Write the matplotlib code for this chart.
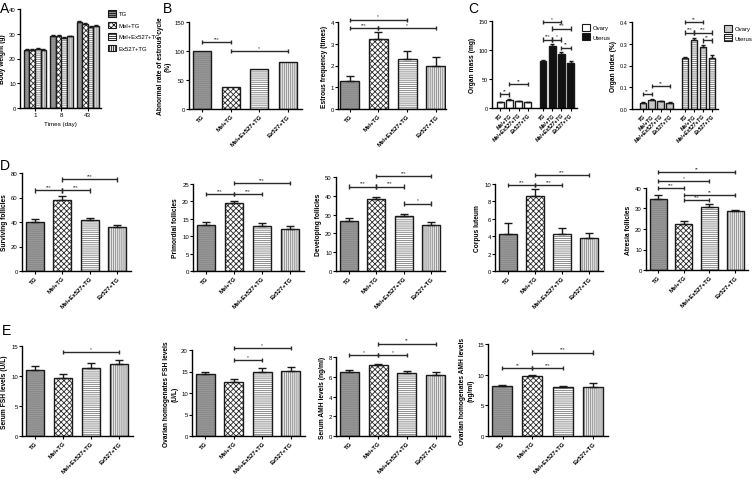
import numpy as np
import matplotlib
matplotlib.use("Agg")
import matplotlib.pyplot as plt
from matplotlib.patches import Patch

# fonts and general look
plt.rcParams['font.family'] = ['Liberation Sans', 'DejaVu Sans']
plt.rcParams['hatch.linewidth'] = 0.6
plt.rcParams['axes.linewidth'] = 1.0

# ---------------- data ----------------
groups = ['TG', 'Mel+TG', 'Mel+Ex527+TG', 'Ex527+TG']

# A: body weight
days = ['1', '8', '43']
weight_tg = [23.6, 29.2, 34.8]
weight_mel = [23.5, 29.1, 34.1]
weight_melex = [23.8, 28.4, 32.9]
weight_ex = [23.6, 28.9, 33.0]
weight_err = [0.3, 0.3, 0.4]

# B: estrous cycle
abnormal_rate = [100, 37.5, 68.7, 80.8]
estrous_freq = [1.28, 3.2, 2.3, 2.0]
estrous_err = [0.22, 0.35, 0.37, 0.4]

# C: organ mass / organ index
ovary_mass = [10.3, 14.0, 12.0, 10.3]
ovary_mass_err = [0.8, 0.9, 0.6, 0.5]
uterus_mass = [80.5, 107, 93, 77]
uterus_mass_err = [2.5, 2.5, 3.5, 3.5]
ovary_index = [0.029, 0.041, 0.036, 0.029]
ovary_index_err = [0.002, 0.003, 0.002, 0.002]
uterus_index = [0.234, 0.318, 0.285, 0.235]
uterus_index_err = [0.005, 0.008, 0.008, 0.012]

# D: follicle counts
surviving = [40, 58, 41.5, 36]
surviving_err = [2.5, 3.0, 1.8, 1.6]
primordial = [13.3, 19.4, 12.8, 12.0]
primordial_err = [0.8, 0.8, 1.0, 0.9]
developing = [26.6, 38.1, 29.2, 24.6]
developing_err = [1.5, 1.5, 1.0, 1.3]
corpus = [4.3, 8.6, 4.2, 3.85]
corpus_err = [1.2, 0.8, 0.7, 0.55]
atresia = [34.8, 22.6, 30.8, 28.6]
atresia_err = [2.0, 1.3, 1.3, 0.8]

# E: hormone levels
serum_fsh = [11.0, 9.7, 11.4, 12.0]
serum_fsh_err = [0.6, 0.6, 0.8, 0.6]
ovarian_fsh = [14.4, 12.5, 15.0, 15.2]
ovarian_fsh_err = [0.6, 0.7, 0.8, 0.8]
serum_amh = [6.5, 7.2, 6.35, 6.2]
serum_amh_err = [0.15, 0.12, 0.25, 0.3]
ovarian_amh = [8.1, 9.8, 8.0, 8.0]
ovarian_amh_err = [0.15, 0.2, 0.15, 0.6]

# significance brackets (group i, group j, height, label)
sig_abnormal = [(0, 1, 115, '***'), (1, 3, 100, '*')]
sig_estrous = [(0, 2, 4.1, '*'), (0, 1, 3.72, '***'), (1, 3, 3.72, '*')]
sig_ovary_mass = [(0, 1, 23.5, '**'), (1, 3, 41, '**')]
sig_uterus_mass = [(0, 2, 148, '*'), (1, 3, 137, '***'), (0, 1, 118, '***'),
                   (1, 2, 118, '*'), (2, 3, 104, '**')]
sig_ovary_index = [(0, 1, 0.069, '**'), (1, 3, 0.105, '**')]
sig_uterus_index = [(0, 2, 0.40, '**'), (0, 1, 0.351, '***'),
                    (1, 3, 0.351, '***'), (2, 3, 0.315, '**')]
sig_surviving = [(0, 1, 66, '***'), (1, 2, 66, '***'), (1, 3, 75, '***')]
sig_primordial = [(0, 1, 22.1, '***'), (1, 2, 22.1, '***'), (1, 3, 25.2, '***')]
sig_developing = [(0, 1, 44.9, '***'), (1, 2, 44.9, '***'),
                  (1, 3, 50.5, '***'), (2, 3, 35.8, '*')]
sig_corpus = [(0, 1, 9.9, '***'), (1, 2, 9.9, '***'), (1, 3, 11.0, '***')]
sig_atresia = [(0, 3, 47.6, '**'), (0, 2, 43.4, '*'), (0, 1, 39.8, '***'),
               (1, 3, 36.6, '**'), (1, 2, 34.1, '***')]
sig_serum_fsh = [(1, 3, 14.0, '*')]
sig_ovarian_fsh = [(1, 3, 20.4, '*'), (1, 2, 17.7, '*')]
sig_serum_amh = [(0, 1, 8.2, '*'), (1, 2, 8.2, '*'), (1, 3, 9.35, '**')]
sig_ovarian_amh = [(0, 1, 11.1, '**'), (1, 2, 11.1, '***'), (1, 3, 13.6, '***')]

# bar styles for the four groups: face colour, hatch, hatch colour
group_styles = [('#8a8a8a', '--------', '#9c9c9c'),
                ('white', 'xxxxxx', '#2a2a2a'),
                ('white', '--------', '#7a7a7a'),
                ('#e4e4e4', '||||||||', '#8a8a8a')]

W, H = 752, 485
fig = plt.figure(figsize=(W / 100, H / 100), dpi=100)


def add_ax(x0, x1, ytop, ybot):
    # axes placed by pixel positions (top-left origin)
    return fig.add_axes([x0 / W, 1 - ybot / H, (x1 - x0) / W, (ybot - ytop) / H])


def style_axes(ax, ymax, yticks, ylabel, fmt=None):
    ax.set_ylim(0, ymax)
    ax.set_yticks(yticks)
    if fmt:
        ax.set_yticklabels([fmt.format(t) for t in yticks])
    ax.spines['top'].set_visible(False)
    ax.spines['right'].set_visible(False)
    ax.tick_params(labelsize=4.3, length=2, width=0.8, pad=1)
    ax.set_ylabel(ylabel, fontsize=4.8, fontweight='bold', labelpad=2)


def draw_bar(ax, x, h, width, style):
    face, hatch, hcolor = style
    ax.bar(x, h, width, color=face, hatch=hatch, edgecolor=hcolor, linewidth=0)
    ax.bar(x, h, width, fill=False, edgecolor='#1a1a1a', linewidth=1.0)


def draw_err(ax, x, vals, errs, cap=3):
    ax.errorbar(x, vals, yerr=[np.zeros(len(vals)), errs], fmt='none',
                ecolor='#1a1a1a', elinewidth=1, capsize=cap, capthick=1)


def bracket(ax, x1, x2, y, label, dh):
    kw = dict(color='#2a2a2a', lw=1, clip_on=False, solid_capstyle='butt')
    ax.plot([x1, x2], [y, y], **kw)
    ax.plot([x1, x1], [y - dh, y + dh], **kw)
    ax.plot([x2, x2], [y - dh, y + dh], **kw)
    ax.text((x1 + x2) / 2, y + dh * 0.6, label, fontsize=3.5, ha='center',
            va='bottom', color='#333333', clip_on=False)


def set_group_labels(ax, xs, size=4.3):
    ax.set_xticks(xs)
    ax.set_xticklabels(groups, rotation=45, ha='right', rotation_mode='anchor',
                       fontsize=size, fontweight='bold')


def four_panel(ax, vals, errs, sigs, ymax, yticks, ylabel, fmt=None, width=0.66):
    x = np.arange(4)
    for i in range(4):
        draw_bar(ax, x[i], vals[i], width, group_styles[i])
    if errs is not None:
        draw_err(ax, x, vals, errs)
    for i, j, y, lab in sigs:
        bracket(ax, x[i], x[j], y, lab, ymax * 0.025)
    ax.set_xlim(-0.47, 3.5)
    style_axes(ax, ymax, yticks, ylabel, fmt)
    set_group_labels(ax, x)


# ---------------- panel A ----------------
axA = add_ax(20, 101, 10, 109)
xd = np.arange(len(days))
bw = 0.21
series_a = [weight_tg, weight_mel, weight_melex, weight_ex]
for k, vals in enumerate(series_a):
    xs = xd + (k - 1.5) * bw
    for i in range(len(days)):
        draw_bar(axA, xs[i], vals[i], bw, group_styles[k])
    draw_err(axA, xs, vals, weight_err, cap=1.2)
axA.set_xlim(-0.57, 2.5)
style_axes(axA, 40, [0, 10, 20, 30, 40], 'Body weight (g)')
axA.set_xticks(xd)
axA.set_xticklabels(days, fontsize=4.5)
axA.set_xlabel('Times (day)', fontsize=4.5, labelpad=3)
handles = [Patch(facecolor=s[0], hatch=s[1], edgecolor='#1a1a1a', linewidth=0.8)
           for s in group_styles]
fig.legend(handles, groups, loc='upper left', bbox_to_anchor=(106 / W, 1 - 9 / H),
           fontsize=4.3, frameon=False, handlelength=1.2, handleheight=1.2,
           handletextpad=0.5, labelspacing=0.9, borderaxespad=0)

# ---------------- panel B ----------------
axB1 = add_ax(189, 302, 23, 110)
four_panel(axB1, abnormal_rate, None, sig_abnormal, 150, [0, 50, 100, 150],
           'Abnormal rate of estrous cycle\n(%)', width=0.63)
axB2 = add_ax(338, 446, 23, 110)
four_panel(axB2, estrous_freq, estrous_err, sig_estrous, 4, [0, 1, 2, 3, 4],
           'Estrous frequency (times)', width=0.66)
axB2.set_xlim(-0.4, 3.35)

# ---------------- panel C ----------------
def organ_panel(ax, ov, ov_err, ut, ut_err, sig_ov, sig_ut, ymax, yticks, ylabel,
                ov_style, ut_style, fmt=None):
    xo = np.arange(4)
    xu = np.arange(4) + 4.7
    for i in range(4):
        draw_bar(ax, xo[i], ov[i], 0.72, ov_style)
        draw_bar(ax, xu[i], ut[i], 0.72, ut_style)
    draw_err(ax, xo, ov, ov_err, cap=1.5)
    draw_err(ax, xu, ut, ut_err, cap=1.5)
    for i, j, y, lab in sig_ov:
        bracket(ax, xo[i], xo[j], y, lab, ymax * 0.025)
    for i, j, y, lab in sig_ut:
        bracket(ax, xu[i], xu[j], y, lab, ymax * 0.025)
    style_axes(ax, ymax, yticks, ylabel, fmt)
    ax.set_xticks(np.concatenate([xo, xu]))
    ax.set_xticklabels(groups + groups, rotation=45, ha='right',
                       rotation_mode='anchor', fontsize=3.8, fontweight='bold',
                       style='italic')
    ax.tick_params(axis='y', labelsize=4)


axC1 = add_ax(492, 577, 22, 109)
organ_panel(axC1, ovary_mass, ovary_mass_err, uterus_mass, uterus_mass_err,
            sig_ovary_mass, sig_uterus_mass, 150, [0, 50, 100, 150],
            'Organ mass (mg)', ('white', '', 'white'), ('#111111', '', '#111111'))
axC1.set_xlim(-0.9, 8.4)
h1 = [Patch(facecolor='white', edgecolor='#1a1a1a', linewidth=0.8),
      Patch(facecolor='#111111', edgecolor='#1a1a1a', linewidth=0.8)]
fig.legend(h1, ['Ovary', 'Uterus'], loc='upper left',
           bbox_to_anchor=(580 / W, 1 - 23 / H), fontsize=4.3, frameon=False,
           handlelength=1.2, handleheight=1.2, handletextpad=0.5,
           labelspacing=0.5, borderaxespad=0)

axC2 = add_ax(632, 718, 23, 110)
organ_panel(axC2, ovary_index, ovary_index_err, uterus_index, uterus_index_err,
            sig_ovary_index, sig_uterus_index, 0.4, [0, 0.1, 0.2, 0.3, 0.4],
            'Organ index (%)', ('#c8c8c8', '', '#c8c8c8'),
            ('white', '--------', '#6e6e6e'), fmt='{:.1f}')
axC2.set_xlim(-1.2, 8.4)
h2 = [Patch(facecolor='#c8c8c8', edgecolor='#1a1a1a', linewidth=0.8),
      Patch(facecolor='white', hatch='--------', edgecolor='#1a1a1a', linewidth=0.8)]
fig.legend(h2, ['Ovary', 'Uterus'], loc='upper left',
           bbox_to_anchor=(722 / W, 1 - 24 / H), fontsize=4.3, frameon=False,
           handlelength=1.2, handleheight=1.2, handletextpad=0.5,
           labelspacing=0.5, borderaxespad=0)

# ---------------- panel D ----------------
axD1 = add_ax(22, 131, 174, 272)
four_panel(axD1, surviving, surviving_err, sig_surviving, 80,
           [0, 20, 40, 60, 80], 'Surviving follicles')
axD2 = add_ax(193, 304, 185, 272)
four_panel(axD2, primordial, primordial_err, sig_primordial, 25,
           [0, 5, 10, 15, 20, 25], 'Primordial follicles')
axD3 = add_ax(336, 445, 178, 272)
four_panel(axD3, developing, developing_err, sig_developing, 50,
           [0, 10, 20, 30, 40, 50], 'Developing follicles')
axD4 = add_ax(495, 603, 185, 272)
four_panel(axD4, corpus, corpus_err, sig_corpus, 10,
           [0, 2, 4, 6, 8, 10], 'Corpus luteum')
axD5 = add_ax(646, 748, 189, 271)
four_panel(axD5, atresia, atresia_err, sig_atresia, 40,
           [0, 10, 20, 30, 40], 'Atresia follicles')

# ---------------- panel E ----------------
axE1 = add_ax(22, 133, 347, 437)
four_panel(axE1, serum_fsh, serum_fsh_err, sig_serum_fsh, 15,
           [0, 5, 10, 15], 'Serum FSH levels (U/L)')
axE2 = add_ax(192, 305, 351, 437)
four_panel(axE2, ovarian_fsh, ovarian_fsh_err, sig_ovarian_fsh, 20,
           [0, 5, 10, 15, 20], 'Ovarian homogenates FSH levels\n(U/L)')
axE3 = add_ax(336, 450, 358, 437)
four_panel(axE3, serum_amh, serum_amh_err, sig_serum_amh, 8,
           [0, 2, 4, 6, 8], 'Serum AMH levels (ng/ml)')
axE4 = add_ax(488, 608, 345, 437)
four_panel(axE4, ovarian_amh, ovarian_amh_err, sig_ovarian_amh, 15,
           [0, 5, 10, 15], 'Ovarian homogenates AMH levels\n(ng/ml)')

# ---------------- panel letters ----------------
for lab, x, y in [('A', 0, 9), ('B', 163, 9), ('C', 468, 9),
                  ('D', 0, 166), ('E', 2, 331)]:
    fig.text(x / W, 1 - y / H, lab, fontsize=10, ha='left', va='center')

fig.savefig('out.png', dpi=100)
